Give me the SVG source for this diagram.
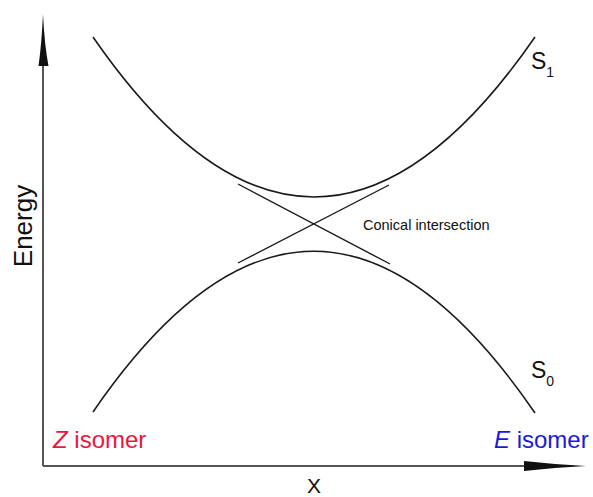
<svg xmlns="http://www.w3.org/2000/svg" width="593" height="497" viewBox="0 0 593 497">
<style>
text{font-family:"Liberation Sans",Arial,sans-serif;fill:#111}
.axis{stroke:#555;stroke-width:2;fill:none}
.head{fill:#111;stroke:none}
.curve{stroke:#1a1a1a;stroke-width:1.6;fill:none}
.tan{stroke:#1a1a1a;stroke-width:1.4;fill:none}
.lbl{font-size:23px}
.sub{font-size:14px}
</style>
<rect width="593" height="497" fill="#fff"/>
<g id="axes">
<path class="axis" d="M43,466 V65 M43,466 H524"/>
<path class="head" d="M43,14 Q44.5,45 48.5,66 H38.5 Q41.5,45 43,14 Z"/>
<path class="head" d="M586,466 Q555,467.5 524,471 V461 Q555,464.5 586,466 Z"/>
<text x="0" y="0" font-size="26" text-anchor="middle" transform="translate(32,226) rotate(-90)">Energy</text>
<text x="314" y="493" font-size="21" text-anchor="middle">X</text>
</g>
<g id="connectors">
<path id="S1-curve" class="curve" d="M93,37 Q314,357 535,37"/>
<path id="S0-curve" class="curve" d="M93,412 Q314,90 535,413"/>
<line class="tan" x1="238" y1="184" x2="390" y2="264"/>
<line class="tan" x1="238" y1="263" x2="389" y2="185"/>
</g>
<g id="S1"><text class="lbl" x="531" y="69">S<tspan class="sub" dy="8">1</tspan></text></g>
<g id="S0"><text class="lbl" x="531" y="378">S<tspan class="sub" dy="8">0</tspan></text></g>
<g id="ci"><text x="363" y="230" font-size="14.5">Conical intersection</text></g>
<g id="Z"><text x="53" y="448" font-size="24" style="fill:#e8173f"><tspan font-style="italic">Z</tspan> isomer</text></g>
<g id="E"><text x="494" y="448" font-size="24" style="fill:#1a1ad6"><tspan font-style="italic">E</tspan> isomer</text></g>
</svg>
